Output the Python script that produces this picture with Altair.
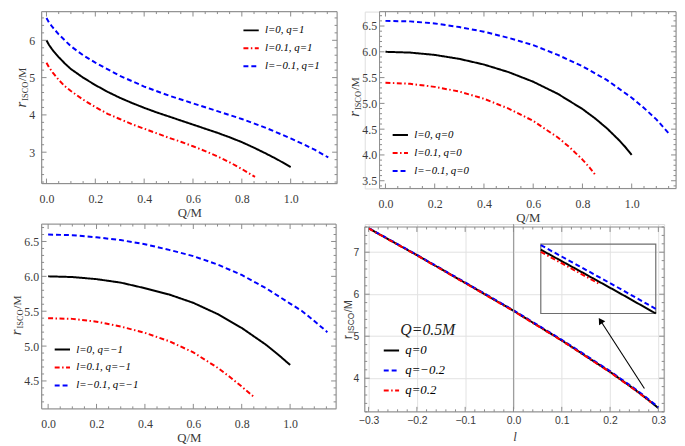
import altair as alt
import pandas as pd

# ---------------- data ----------------
# (a) q = 1
a_black_Q = [0.0, 0.01, 0.025, 0.05, 0.075, 0.1, 0.15, 0.2, 0.25, 0.3, 0.35, 0.4, 0.45, 0.5,
             0.55, 0.6, 0.65, 0.7, 0.75, 0.8, 0.85, 0.9, 0.95, 1.0]
a_black_r = [6.0, 5.88, 5.74, 5.55, 5.38, 5.23, 5.0, 4.8, 4.62, 4.46, 4.32, 4.19, 4.07, 3.96,
             3.85, 3.74, 3.63, 3.52, 3.40, 3.27, 3.12, 2.96, 2.79, 2.6]
a_red_Q = [0.0, 0.01, 0.025, 0.05, 0.075, 0.1, 0.15, 0.2, 0.25, 0.3, 0.35, 0.4, 0.45, 0.5,
           0.55, 0.6, 0.65, 0.7, 0.75, 0.8, 0.854]
a_red_r = [5.4, 5.28, 5.14, 4.94, 4.77, 4.64, 4.41, 4.21, 4.03, 3.89, 3.75, 3.63, 3.51, 3.39,
           3.28, 3.16, 3.03, 2.89, 2.73, 2.55, 2.34]
a_blue_Q = [0.0, 0.01, 0.025, 0.05, 0.1, 0.15, 0.2, 0.3, 0.4, 0.5, 0.6, 0.7, 0.8, 0.9, 1.0,
            1.05, 1.1, 1.154]
a_blue_r = [6.6, 6.48, 6.35, 6.16, 5.84, 5.60, 5.40, 5.05, 4.76, 4.52, 4.31, 4.10, 3.89, 3.65,
            3.37, 3.22, 3.06, 2.86]

# (b) q = 0
b_black_Q = [0.0, 0.1, 0.2, 0.3, 0.4, 0.5, 0.6, 0.7, 0.8, 0.85, 0.9, 0.95, 0.975, 0.99, 1.0]
b_black_r = [6.0, 5.985, 5.94, 5.863, 5.753, 5.606, 5.42, 5.185, 4.891, 4.714, 4.514, 4.28,
             4.148, 4.061, 4.0]
b_red_Q = [0.0, 0.1, 0.2, 0.3, 0.4, 0.5, 0.6, 0.65, 0.7, 0.75, 0.8, 0.83, 0.845, 0.854]
b_red_r = [5.4, 5.38, 5.32, 5.23, 5.09, 4.90, 4.66, 4.50, 4.34, 4.14, 3.91, 3.75, 3.66, 3.6]
b_blue_Q = [0.0, 0.1, 0.2, 0.3, 0.4, 0.5, 0.6, 0.7, 0.8, 0.9, 1.0, 1.05, 1.1, 1.13, 1.154]
b_blue_r = [6.6, 6.59, 6.55, 6.48, 6.39, 6.27, 6.13, 5.94, 5.72, 5.45, 5.11, 4.91, 4.69, 4.53, 4.4]

# (c) q = -1
c_black_Q = [0.0, 0.1, 0.2, 0.3, 0.4, 0.5, 0.6, 0.7, 0.8, 0.85, 0.9, 0.95, 1.0]
c_black_r = [6.0, 5.99, 5.96, 5.91, 5.83, 5.74, 5.62, 5.46, 5.26, 5.14, 5.02, 4.88, 4.73]
c_red_Q = [0.0, 0.1, 0.2, 0.3, 0.4, 0.5, 0.6, 0.7, 0.75, 0.8, 0.854]
c_red_r = [5.4, 5.39, 5.35, 5.28, 5.19, 5.07, 4.91, 4.69, 4.56, 4.42, 4.26]
c_blue_Q = [0.0, 0.1, 0.2, 0.3, 0.4, 0.5, 0.6, 0.7, 0.8, 0.9, 1.0, 1.05, 1.1, 1.154]
c_blue_r = [6.6, 6.59, 6.56, 6.52, 6.46, 6.38, 6.29, 6.17, 6.02, 5.83, 5.61, 5.50, 5.36, 5.20]

# (d) Q = 0.5M, r_ISCO versus l
d_black_l = [-0.3, -0.2, -0.1, 0.0, 0.1, 0.2, 0.25, 0.27, 0.28, 0.29, 0.3]
d_black_r = [7.57, 6.93, 6.27, 5.606, 4.90, 4.15, 3.74, 3.566, 3.475, 3.383, 3.289]
d_blue_l = [-0.3, -0.2, -0.1, 0.0, 0.1, 0.2, 0.25, 0.27, 0.28, 0.29, 0.3]
d_blue_r = [7.575, 6.937, 6.28, 5.618, 4.915, 4.168, 3.76, 3.586, 3.495, 3.403, 3.309]
d_red_l = [-0.3, -0.2, -0.1, 0.0, 0.1, 0.2, 0.25, 0.27, 0.285]
d_red_r = [7.565, 6.925, 6.262, 5.598, 4.893, 4.141, 3.731, 3.557, 3.420]

LBL_A = ["l=0, q=1", "l=0.1, q=1", "l=\u22120.1, q=1"]
LBL_B = ["l=0, q=0", "l=0.1, q=0", "l=\u22120.1, q=0"]
LBL_C = ["l=0, q=\u22121", "l=0.1, q=\u22121", "l=\u22120.1, q=\u22121"]
LBL_D = ["q=0", "q=\u22120.2", "q=0.2"]
D_LEGEND_TITLE = "Q=0.5M"
Y_TITLE = ["r", "ISCO", "/M"]

# tick values
Q_MAJOR = [0.0, 0.2, 0.4, 0.6, 0.8, 1.0]
Q_MINOR = [0.05, 0.1, 0.15, 0.25, 0.3, 0.35, 0.45, 0.5, 0.55, 0.65, 0.7, 0.75, 0.85, 0.9,
           0.95, 1.05, 1.1, 1.15]
A_Y_MAJOR = [3, 4, 5, 6]
A_Y_MINOR = [2.2, 2.4, 2.6, 2.8, 3.2, 3.4, 3.6, 3.8, 4.2, 4.4, 4.6, 4.8, 5.2, 5.4, 5.6, 5.8,
             6.2, 6.4, 6.6]
B_Y_MAJOR = [3.5, 4.0, 4.5, 5.0, 5.5, 6.0, 6.5]
B_Y_MINOR = [3.4, 3.6, 3.7, 3.8, 3.9, 4.1, 4.2, 4.3, 4.4, 4.6, 4.7, 4.8, 4.9, 5.1, 5.2, 5.3,
             5.4, 5.6, 5.7, 5.8, 5.9, 6.1, 6.2, 6.3, 6.4, 6.6, 6.7]
C_Y_MAJOR = [4.5, 5.0, 5.5, 6.0, 6.5]
C_Y_MINOR = [4.2, 4.3, 4.4, 4.6, 4.7, 4.8, 4.9, 5.1, 5.2, 5.3, 5.4, 5.6, 5.7, 5.8, 5.9, 6.1,
             6.2, 6.3, 6.4, 6.6, 6.7]
D_X_MAJOR = [-0.3, -0.2, -0.1, 0.0, 0.1, 0.2, 0.3]
D_X_MINOR = [-0.28, -0.26, -0.24, -0.22, -0.18, -0.16, -0.14, -0.12, -0.08, -0.06, -0.04,
             -0.02, 0.02, 0.04, 0.06, 0.08, 0.12, 0.14, 0.16, 0.18, 0.22, 0.24, 0.26, 0.28]
D_Y_MAJOR = [4, 5, 6, 7]
D_Y_MINOR = [3.2, 3.4, 3.6, 3.8, 4.2, 4.4, 4.6, 4.8, 5.2, 5.4, 5.6, 5.8, 6.2, 6.4, 6.6, 6.8,
             7.2, 7.4, 7.6]
D_ZERO = [0.0]

# ---------------- styling ----------------
FRAME = "#8a8a8a"
LABEL = "#3a3a3a"
SERIF = "Liberation Serif"
SANS = "Liberation Sans"
COLORS_ABC = ["#000000", "#ff0000", "#0000ff"]
DASHES_ABC = [[1, 0], [5, 2.5, 1.5, 2.5], [5, 3]]
COLORS_D = ["#000000", "#0000ff", "#ff0000"]
DASHES_D = [[1, 0], [5, 3], [5, 2.5, 1.5, 2.5]]


def series_df(names, xs_list, ys_list):
    rows = []
    for name, xs, ys in zip(names, xs_list, ys_list):
        for i, (x, y) in enumerate(zip(xs, ys)):
            rows.append({"x": x, "y": y, "s": name, "i": i})
    return pd.DataFrame(rows)


def one(t):
    return pd.DataFrame({"t": [t]})


def legend_for(lx, ly, size, rowpad):
    return alt.Legend(orient="none", legendX=lx, legendY=ly, title=None, symbolType="stroke",
                      symbolSize=240, symbolStrokeWidth=2, labelFont=SERIF,
                      labelFontStyle="italic", labelFontSize=size, labelColor="#000000",
                      rowPadding=rowpad, labelOffset=5, padding=0)


def line_layer(df, names, colors, dashes, xs, ys, xaxis, yaxis, leg):
    return alt.Chart(df).mark_line(strokeWidth=2, strokeCap="butt").encode(
        x=alt.X("x:Q", scale=xs, axis=xaxis),
        y=alt.Y("y:Q", scale=ys, axis=yaxis),
        color=alt.Color("s:N", scale=alt.Scale(domain=names, range=colors), legend=leg),
        strokeDash=alt.StrokeDash("s:N", scale=alt.Scale(domain=names, range=dashes), legend=leg),
        order=alt.Order("i:Q"),
    )


def build_panel(p):
    W, H, xo, yo = p["W"], p["H"], p["xoff"], p["yoff"]
    xs = alt.Scale(domain=p["xdom"], range=[xo, xo + W], nice=False, zero=False)
    ys = alt.Scale(domain=p["ydom"], range=[yo + H, yo], nice=False, zero=False)
    common = dict(ticks=False, tickSize=0, domain=False, labelFont=p["font"],
                  labelFontSize=p["lsize"], labelColor=LABEL, grid=p["grid"],
                  gridColor="#e2e2e2", gridWidth=1)
    xa = alt.Axis(values=p["xmaj"], format=p["xfmt"], labelPadding=p["xlp"], title=p["xtitle"],
                  titleFont=SERIF, titleFontSize=13, titleFontWeight="normal",
                  titleFontStyle=p["xtstyle"], titleColor=LABEL, titlePadding=p["tpad"], **common)
    ya = alt.Axis(values=p["ymaj"], format=p["yfmt"], labelPadding=p["ylp"], title=None,
                  offset=-xo, **common)
    df = series_df(p["names"], p["xs_list"], p["ys_list"])
    leg = legend_for(p["leg"][0] + xo, p["leg"][1] + yo, p["leg"][2], p["leg"][3])
    layers = [line_layer(df, p["names"], p["colors"], p["dashes"], xs, ys, xa, ya, leg)]
    # frame
    layers.append(alt.Chart(one("frame")).mark_rect(fill=None, stroke=FRAME, strokeWidth=1).encode(
        x=alt.value(xo), x2=alt.value(xo + W), y=alt.value(yo), y2=alt.value(yo + H)))
    # inward ticks on all four sides
    for vals, L in ((p["xmaj"], 5), (p["xmin"], 2.5)):
        d = pd.DataFrame({"x": vals})
        for y0, y1 in ((yo + H, yo + H - L), (yo, yo + L)):
            layers.append(alt.Chart(d).mark_rule(color=FRAME, strokeWidth=1).encode(
                x=alt.X("x:Q", scale=xs, axis=xa), y=alt.value(y0), y2=alt.value(y1)))
    for vals, L in ((p["ymaj"], 5), (p["ymin"], 2.5)):
        d = pd.DataFrame({"y": vals})
        for x0, x1 in ((xo, xo + L), (xo + W, xo + W - L)):
            layers.append(alt.Chart(d).mark_rule(color=FRAME, strokeWidth=1).encode(
                y=alt.Y("y:Q", scale=ys, axis=ya), x=alt.value(x0), x2=alt.value(x1)))
    # y title  r_ISCO / M  (rotated, with subscript)
    xb, yb, font, (s_r, s_sub, s_m), f_sub = p["yt"]
    xb += xo
    yb += yo
    w_r = s_r * 0.42
    w_sub = s_sub * f_sub
    pieces = [(Y_TITLE[0], s_r, "italic", xb, yb),
              (Y_TITLE[1], s_sub, "normal", xb + 2.5, yb - w_r - 0.5),
              (Y_TITLE[2], s_m, "normal", xb, yb - w_r - w_sub - 1)]
    for t, s, st, x, y in pieces:
        layers.append(alt.Chart(one(t)).mark_text(
            angle=270, align="left", baseline="alphabetic", font=font, fontSize=s,
            fontStyle=st if font == SERIF else "normal", color=LABEL).encode(
            x=alt.value(x), y=alt.value(y), text="t:N"))
    return layers, xs, ys, xa, ya, df


base_q = dict(xmaj=Q_MAJOR, xmin=Q_MINOR, xfmt=".1f", font=SERIF, lsize=12, xtitle="Q/M",
              xtstyle="normal", xlp=10, tpad=2, grid=False, colors=COLORS_ABC, dashes=DASHES_ABC)

H1, H2, H3, H4 = 174, 179, 187, 187
PA = dict(base_q, names=LBL_A, xs_list=[a_black_Q, a_red_Q, a_blue_Q],
          ys_list=[a_black_r, a_red_r, a_blue_r], W=299, H=H1, xoff=0, yoff=0,
          xdom=[-0.02, 1.19], ydom=[2.16, 6.77], ymaj=A_Y_MAJOR, ymin=A_Y_MINOR, yfmt=".0f",
          ylp=7, leg=(203, 10, 11, 4.2), yt=(-16, H1 / 2 + 10, SERIF, (15, 8.5, 11.5), 2.3))
PB = dict(base_q, names=LBL_B, xs_list=[b_black_Q, b_red_Q, b_blue_Q],
          ys_list=[b_black_r, b_red_r, b_blue_r], W=300, H=H2, xoff=15, yoff=0,
          xdom=[-0.024, 1.18], ydom=[3.35, 6.78], ymaj=B_Y_MAJOR, ymin=B_Y_MINOR, yfmt=".1f",
          ylp=3, leg=(12, 116, 11, 4.2), yt=(-21, H2 / 2 + 17, SERIF, (15, 8.5, 11.5), 2.3))
PC = dict(base_q, names=LBL_C, xs_list=[c_black_Q, c_red_Q, c_blue_Q],
          ys_list=[c_black_r, c_red_r, c_blue_r], W=298, H=H3, xoff=0, yoff=0,
          xdom=[-0.027, 1.19], ydom=[4.10, 6.75], ymaj=C_Y_MAJOR, ymin=C_Y_MINOR, yfmt=".1f",
          ylp=3, leg=(12, 118, 11, 4.2), yt=(-21, H3 / 2 + 19, SERIF, (15, 8.5, 11.5), 2.3))
PD = dict(names=LBL_D, xs_list=[d_black_l, d_blue_l, d_red_l], ys_list=[d_black_r, d_blue_r, d_red_r],
          W=303, H=H4, xoff=0, yoff=3, xdom=[-0.308, 0.312], ydom=[3.2, 7.6],
          xmaj=D_X_MAJOR, xmin=D_X_MINOR, ymaj=D_Y_MAJOR, ymin=D_Y_MINOR, xfmt=".1f", yfmt=".0f",
          font=SANS, lsize=10.5, xtitle="l", xtstyle="italic", xlp=4, ylp=6, tpad=5, grid=True,
          colors=COLORS_D, dashes=DASHES_D, leg=(18, 116, 13, 4.2),
          yt=(-13, H4 / 2 + 20, SANS, (13, 8.5, 11), 2.45))

la, *_ = build_panel(PA)
panel_a = alt.layer(*la).properties(width=PA["W"] + PA["xoff"], height=PA["H"] + PA["yoff"])
lb, *_ = build_panel(PB)
panel_b = alt.layer(*lb).properties(width=PB["W"] + PB["xoff"], height=PB["H"] + PB["yoff"])
lc, *_ = build_panel(PC)
panel_c = alt.layer(*lc).properties(width=PC["W"] + PC["xoff"], height=PC["H"] + PC["yoff"])

# ---------------- panel (d) extras ----------------
ld, xs4, ys4, xa4, ya4, df4 = build_panel(PD)
W4, yo4 = PD["W"], PD["yoff"]
zero_rule = alt.Chart(pd.DataFrame({"x": D_ZERO})).mark_rule(color="#9a9a9a", strokeWidth=1).encode(
    x=alt.X("x:Q", scale=xs4, axis=xa4))
legend_title = alt.Chart(one(D_LEGEND_TITLE)).mark_text(
    align="left", baseline="middle", font=SERIF, fontSize=16, fontStyle="italic",
    color="#222222").encode(x=alt.value(36), y=alt.value(yo4 + 104), text="t:N")

bx0, bx1 = 0.588 * W4, 0.972 * W4
by0, by1 = yo4 + 0.093 * H4, yo4 + 0.468 * H4
box = alt.Chart(one("inset")).mark_rect(fill=None, stroke="#6e6e6e", strokeWidth=1.2).encode(
    x=alt.value(bx0), x2=alt.value(bx1), y=alt.value(by0), y2=alt.value(by1))

tail = (0.934 * W4, yo4 + 0.874 * H4)
head = (0.781 * W4, yo4 + 0.490 * H4)
arrow_line = alt.Chart(one("arrow")).mark_rule(color="#000000", strokeWidth=1.1).encode(
    x=alt.value(tail[0]), y=alt.value(tail[1]), x2=alt.value(head[0] + 2.5), y2=alt.value(head[1] + 4))
arrow_head = alt.Chart(one("arrow")).mark_point(
    shape="triangle", size=55, filled=True, color="#000000", opacity=1, angle=327.5).encode(
    x=alt.value(head[0] + 2.5), y=alt.value(head[1] + 4))

main4 = alt.layer(*([ld[0], zero_rule] + ld[1:] + [legend_title, box, arrow_line, arrow_head]))

inset_df = df4[df4["x"] >= 0.27]
ixs = alt.Scale(domain=[0.27, 0.3], range=[bx0, bx1], nice=False, zero=False)
iys = alt.Scale(domain=[3.289, 3.59], range=[by1, by0], nice=False, zero=False)
inset = alt.layer(line_layer(inset_df, LBL_D, COLORS_D, DASHES_D, ixs, iys, None, None,
                             legend_for(PD["leg"][0], PD["leg"][1] + yo4, 13, 4.2)))

panel_d = alt.layer(main4, inset).resolve_scale(x="independent", y="independent").properties(
    width=W4, height=H4 + yo4)

chart = alt.concat(panel_a, panel_b, panel_c, panel_d, columns=2,
                   spacing={"row": 36, "column": 28}, bounds="flush").resolve_scale(
    x="independent", y="independent", color="independent", strokeDash="independent").resolve_legend(
    color="independent", strokeDash="independent").properties(
    padding={"left": 0, "top": 0, "right": 0, "bottom": 0}).configure_view(
    stroke="transparent").configure(font=SERIF, background="#ffffff")

chart.save("out.html", embed_options={"renderer": "svg", "actions": False})
